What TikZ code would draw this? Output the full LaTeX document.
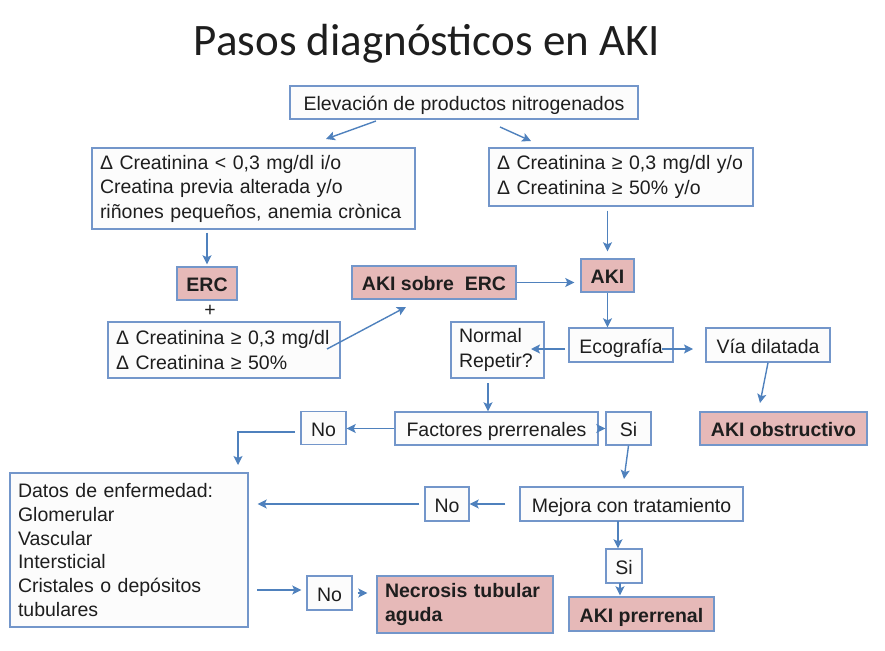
\documentclass[tikz,border=0pt]{standalone}
\usepackage{fontspec}
\setmainfont{Liberation Sans}
\newfontfamily\titlefont{Carlito}
\usetikzlibrary{arrows.meta,calc,positioning}
\hyphenpenalty=10000
\exhyphenpenalty=10000
\definecolor{FlowInk}{HTML}{1E1E1E}
\definecolor{FlowLine}{HTML}{7396CA}
\definecolor{FlowArrow}{HTML}{4F81BD}
\definecolor{FlowPink}{HTML}{E6B9B8}
\definecolor{FlowPaper}{HTML}{FCFCFC}
\tikzset{
  every node/.style={font=\fontsize{19.5}{24.5}\selectfont, text=FlowInk},
  panel/.style={draw=FlowLine, line width=1.4pt, fill=FlowPaper, minimum height=33, inner sep=0pt,
    text height=18pt, text depth=1.5pt},
  listpanel/.style={panel, align=left, inner xsep=8pt, text height=, text depth=},
  result/.style={panel, fill=FlowPink, font=\fontsize{19.5}{24.5}\selectfont\bfseries},
  flow/.style={-{Stealth[length=9pt,width=9pt,inset=2pt]}, draw=FlowArrow, line width=1.4pt},
}

\begin{document}
\begin{tikzpicture}[x=1pt, y=-1pt]
  \useasboundingbox (0,0) rectangle (885,650);
  % Title
  \node[font=\titlefont\fontsize{45}{50}\selectfont] (title) at (427,44) {Pasos diagnósticos en AKI};
  % First level
  \node[panel, minimum width=348] (elev) at (464,102.5) {Elevación de productos nitrogenados};
  \node[listpanel, text width=307, minimum height=81] (crit1) at (253.5,188.5)
    {Δ Creatinina < 0,3 mg/dl i/o\\Creatina previa alterada y/o\\riñones pequeños, anemia crònica};
  \node[listpanel, text width=248, minimum height=58] (crit2) at (621,177)
    {Δ Creatinina ≥ 0,3 mg/dl y/o\\Δ Creatinina ≥ 50\% y/o};
  % Chronic branch
  \node[result, minimum width=60] (erc) at (207,283.5) {ERC};
  \node (plus) at (210,311) {+};
  \node[listpanel, text width=216, minimum height=56] (crit3) at (224,350)
    {Δ Creatinina ≥ 0,3 mg/dl\\Δ Creatinina ≥ 50\%};
  \node[result, minimum width=164] (akierc) at (434,282.5) {AKI sobre\ \ ERC};
  \node[result, minimum width=53] (aki) at (607.5,275.5) {AKI};
  % Ultrasound
  \node[listpanel, text width=77, minimum height=56] (normal) at (497.5,350) {Normal\\Repetir?};
  \node[panel, minimum width=104, minimum height=34] (eco) at (621,345) {Ecografía};
  \node[panel, minimum width=124, minimum height=34] (via) at (768,345) {Vía dilatada};
  \node[result, minimum width=167] (akiobs) at (783.5,428.5) {AKI obstructivo};
  % Prerenal factors
  \node[panel, minimum width=45] (no1) at (323.5,428) {No};
  \node[panel, minimum width=203] (fact) at (496.5,428.5) {Factores prerrenales};
  \node[panel, minimum width=45] (si1) at (628.5,428.5) {Si};
  \node[listpanel, text width=222, minimum height=154, font=\fontsize{19.5}{23.8}\selectfont] (datos) at (129,550)
    {Datos de enfermedad:\\Glomerular\\Vascular\\Intersticial\\Cristales o depósitos\\tubulares};
  \node[panel, minimum width=44, minimum height=34] (no2) at (447,504) {No};
  \node[panel, minimum width=223, minimum height=34] (mejora) at (631.5,504) {Mejora con tratamiento};
  \node[panel, minimum width=36, minimum height=34] (si2) at (624,566) {Si};
  \node[panel, minimum width=45, minimum height=34] (no3) at (329.5,593) {No};
  \node[result, listpanel, fill=FlowPink, text width=160, minimum height=57] (nec) at (465,604.5)
    {Necrosis tubular\\aguda};
  \node[result, minimum width=145, minimum height=34] (akipre) at (641.5,614) {AKI prerrenal};
  % Free arrow ends
  \coordinate (e1a) at (376,121);
  \coordinate (e1b) at (326,139);
  \coordinate (e2a) at (500,127);
  \coordinate (e2b) at (531,141);
  \coordinate (c3a) at (327,349);
  \coordinate (c3b) at (406,307);
  \coordinate (ea) at (565,349);
  \coordinate (eb) at (531,349);
  \coordinate (ec) at (662,349);
  \coordinate (ed) at (693,349);
  \coordinate (vb) at (760,403);
  \coordinate (n1) at (488,383);
  \coordinate (n2) at (295,432);
  \coordinate (d1) at (238,465);
  \coordinate (s1) at (624,479);
  \coordinate (m1) at (618,521);
  \coordinate (p1) at (620,583);
  \coordinate (d2) at (257,590);
  % Connectors
  \draw[flow] (e1a) -- (e1b);
  \draw[flow] (e2a) -- (e2b);
  \draw[flow, shorten <=3pt, shorten >=2pt] (erc.north |- crit1.south) -- (erc.north);
  \draw[flow, shorten <=4pt, shorten >=7pt] (aki.north |- crit2.south) -- (aki.north);
  \draw[flow, shorten >=6pt] (akierc.east) -- (akierc.east -| aki.west);
  \draw[flow] (c3a) -- (c3b);
  \draw[flow] (aki.south) -- (aki.south |- eco.north);
  \draw[flow] (ea) -- (eb);
  \draw[flow] (ec) -- (ed);
  \draw[flow] (via.south) -- (vb);
  \draw[flow] (n1) -- (n1 |- fact.north);
  \draw[flow] (fact.west) -- (fact.west -| no1.east);
  \draw[flow] (fact.east) -- (si1.west);
  \draw[flow] (n2) -| (d1);
  \draw[flow] (si1.south) -- (s1);
  \draw[flow, shorten <=14pt] (mejora.west) -- (no2.east);
  \draw[flow, shorten <=5pt, shorten >=9pt] (no2.west) -- (no2.west -| datos.east);
  \draw[flow] (m1) -- (m1 |- si2.north);
  \draw[flow, shorten >=1pt] (p1) -- (p1 |- akipre.north);
  \draw[flow, shorten >=5pt] (d2) -- (d2 -| no3.west);
  \draw[flow, shorten <=5pt, shorten >=9pt] (no3.east) -- (no3.east -| nec.west);
\end{tikzpicture}
\end{document}
